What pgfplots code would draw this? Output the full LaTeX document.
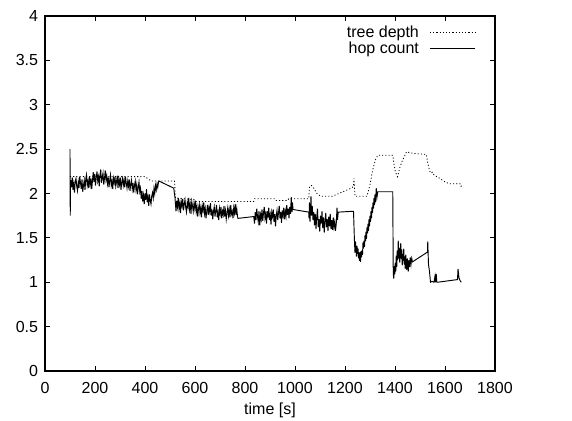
\documentclass[border=0pt]{standalone}
\usepackage{fontspec}
\setmainfont{Liberation Sans}
\usepackage{pgfplots}
\pgfplotsset{compat=1.18}
\begin{document}
\fontsize{12pt}{14pt}\selectfont
\begin{tikzpicture}
\path[use as bounding box] (-33.75pt,-37.5pt) rectangle (395.25pt,278.25pt);
\begin{axis}[
  at={(0pt,0pt)}, anchor=south west,
  scale only axis, width=337.5pt, height=266.25pt,
  xmin=0, xmax=1800, ymin=0, ymax=4,
  xtick={0,200,...,1800}, ytick={0,0.5,...,4},
  tick pos=both, tick align=inside,
  major tick length=4pt,
  scaled x ticks=false, scaled y ticks=false,
  /pgf/number format/assume math mode=true,
  /pgf/number format/1000 sep={},
  xticklabel style={yshift=-4.5pt},
  yticklabel style={xshift=-1pt},
  tick label style={font=\fontsize{12pt}{14pt}\selectfont},
  label style={font=\fontsize{12pt}{14pt}\selectfont},
  xlabel={time [s]},
  xlabel style={yshift=1.5pt},
  axis line style={line width=0.8pt},
  every tick/.style={line width=0.6pt, black},
  legend plot pos=right,
  legend cell align=right,
  legend style={at={(0.961,0.985)}, anchor=north east, draw=none, fill=none,
    font=\fontsize{12pt}{14pt}\selectfont, row sep=-2.5pt, column sep=6pt, inner sep=1pt},
  legend image code/.code={\draw[#1] (0pt,0pt) -- (34pt,0pt);},
]
\addplot[black, line width=0.6pt, dash pattern=on 0.8pt off 1.6pt] coordinates {
(100,2.19) (400,2.19) (425,2.14) (518,2.14) (522,1.95) (560,1.94) (600,1.93) (604,1.91)
(835,1.91) (838,1.94) (920,1.94) (925,1.92) (970,1.92) (975,1.94) (1055,1.94)
(1058,2.08) (1066,2.09) (1075,2.06) (1090,1.99) (1105,1.97) (1150,1.97)
(1175,2.00) (1200,2.03) (1225,2.06) (1234,2.08) (1236,2.17) (1240,1.97) (1288,1.97)
(1300,2.10) (1312,2.28) (1322,2.38) (1331,2.43) (1391,2.43) (1396,2.33) (1402,2.24)
(1410,2.19) (1418,2.28) (1428,2.36) (1438,2.42) (1446,2.47) (1460,2.46) (1480,2.45)
(1525,2.44) (1532,2.33) (1538,2.26) (1543,2.23) (1550,2.24) (1556,2.21) (1567,2.19)
(1580,2.17) (1595,2.14) (1616,2.11) (1660,2.11) (1664,2.08) (1668,2.10)
};
\addlegendentry{tree depth}
\addplot[black, line width=0.7pt] coordinates {
(100,2.50) (101,1.75) (102,2.12)
(103,2.15) (106,2.07) (109,2.18) (112,2.04) (115,2.11) (118,2.01) (121,2.14) (124,2.17)
(127,2.08) (130,2.03) (133,2.13) (136,2.06) (139,2.19) (142,2.12) (145,2.05) (148,2.16)
(151,2.02) (154,2.09) (157,2.15) (160,2.04)
(163,2.16) (166,2.21) (169,2.09) (172,2.14) (175,2.06) (178,2.19) (181,2.10) (184,2.17)
(187,2.05) (190,2.15)
(193,2.24) (196,2.13) (199,2.22) (202,2.09) (205,2.18) (208,2.25) (211,2.14) (214,2.19)
(217,2.08) (220,2.21) (223,2.27) (226,2.12) (229,2.18) (232,2.23) (235,2.10) (238,2.17)
(241,2.26) (244,2.15) (247,2.20) (250,2.11)
(253,2.18) (256,2.07) (259,2.15) (262,2.21) (265,2.09) (268,2.14) (271,2.05) (274,2.17)
(277,2.12) (280,2.19) (283,2.08) (286,2.13) (289,2.20) (292,2.06) (295,2.16) (298,2.10)
(301,2.18) (304,2.04) (307,2.13) (310,2.17) (313,2.09) (316,2.15) (319,2.07) (322,2.19)
(325,2.12) (328,2.06)
(331,2.14) (334,2.08) (337,2.16) (340,2.03) (343,2.11) (346,2.15) (349,2.05) (352,2.12)
(355,2.01) (358,2.09) (361,2.14) (364,2.04) (367,2.10) (370,1.99) (373,2.07) (376,2.13)
(379,2.02) (382,2.06)
(385,1.94) (388,2.03) (391,1.91) (394,1.98) (397,1.88) (400,2.00) (403,1.93) (406,2.05)
(409,1.90) (412,1.96) (415,1.86) (418,1.99) (421,1.92) (424,1.88) (427,1.97)
(430,2.01) (433,1.95) (436,2.06) (439,2.00) (442,2.09) (445,2.04) (448,2.11) (451,2.07)
(454,2.13) (456,2.14)
(515,2.06) (520,1.95)
(524,1.80) (527,1.92) (530,1.85) (533,1.95) (536,1.83) (539,1.89) (542,1.78) (545,1.91)
(548,1.86) (551,1.94) (554,1.81) (557,1.88) (560,1.93) (563,1.84) (566,1.79) (569,1.90)
(572,1.85) (575,1.95) (578,1.82) (581,1.88) (584,1.77) (587,1.91) (590,1.86) (593,1.80)
(596,1.89) (599,1.83)
(602,1.92) (605,1.79) (608,1.85) (611,1.74) (614,1.83) (617,1.88) (620,1.78) (623,1.84)
(626,1.73) (629,1.86) (632,1.81) (635,1.90) (638,1.77) (641,1.83) (644,1.72) (647,1.80)
(650,1.87) (653,1.76) (656,1.84) (659,1.79) (662,1.89) (665,1.75) (668,1.82) (671,1.71)
(674,1.80) (677,1.85) (680,1.74)
(683,1.81) (686,1.87) (689,1.73) (692,1.79) (695,1.70) (698,1.83) (701,1.77) (704,1.85)
(707,1.72) (710,1.80) (713,1.76) (716,1.86) (719,1.74) (722,1.81) (725,1.71) (728,1.78)
(731,1.84) (734,1.75) (737,1.82) (740,1.73) (743,1.87) (746,1.77) (749,1.80) (752,1.72)
(755,1.84) (758,1.78) (761,1.88) (764,1.76) (767,1.83) (770,1.74) (772,1.72)
(835,1.74)
(838,1.66) (841,1.79) (844,1.70) (847,1.83) (850,1.74) (853,1.68) (856,1.80) (859,1.64)
(862,1.76) (865,1.71) (868,1.82) (871,1.69) (874,1.78) (877,1.85) (880,1.72) (883,1.77)
(886,1.66) (889,1.80) (892,1.73) (895,1.84) (898,1.70) (901,1.76) (904,1.65) (907,1.79)
(910,1.74) (913,1.82) (916,1.68) (919,1.77) (922,1.63) (925,1.75) (928,1.81) (931,1.70)
(934,1.78) (937,1.86) (940,1.72) (943,1.79) (946,1.67) (949,1.81) (952,1.75) (955,1.84)
(958,1.71) (961,1.80) (964,1.74) (967,1.87) (970,1.76) (973,1.83) (976,1.72) (979,1.85)
(982,1.77) (985,1.96) (988,1.79) (990,1.90) (992,1.82)
(1055,1.79)
(1056,1.72) (1058,1.90) (1060,1.68) (1062,1.81) (1064,1.97) (1066,1.75) (1069,1.86)
(1072,1.70) (1075,1.79) (1078,1.64) (1081,1.77) (1084,1.60) (1087,1.74) (1090,1.83)
(1093,1.62) (1096,1.71) (1099,1.57) (1102,1.75) (1105,1.66) (1108,1.80) (1111,1.61)
(1114,1.73) (1117,1.56) (1120,1.69) (1123,1.78) (1126,1.62) (1129,1.71) (1132,1.58)
(1135,1.74) (1138,1.63) (1141,1.77) (1144,1.60) (1147,1.70) (1150,1.59) (1153,1.73)
(1156,1.62) (1159,1.68) (1162,1.58) (1165,1.66) (1168,1.84) (1170,1.70) (1173,1.79)
(1234,1.80)
(1238,1.45) (1240,1.33) (1242,1.46) (1244,1.38) (1246,1.29) (1248,1.41) (1250,1.32)
(1252,1.38) (1254,1.27) (1256,1.34) (1258,1.24) (1260,1.29) (1262,1.23) (1264,1.35)
(1266,1.28) (1268,1.36) (1270,1.31) (1272,1.45) (1274,1.38) (1276,1.47) (1278,1.40)
(1280,1.53) (1282,1.46) (1284,1.57) (1286,1.49) (1288,1.62) (1290,1.55) (1292,1.66)
(1294,1.58) (1296,1.71) (1298,1.63) (1300,1.75) (1302,1.68) (1304,1.80) (1306,1.72)
(1308,1.85) (1310,1.78) (1312,1.90) (1314,1.83) (1316,1.95) (1318,1.87) (1320,1.99)
(1322,1.90) (1325,2.06) (1328,1.96) (1331,2.02)
(1391,2.02) (1393,1.10)
(1395,1.04) (1397,1.18) (1399,1.09) (1401,1.22) (1403,1.12) (1405,1.30) (1407,1.17)
(1409,1.36) (1411,1.25) (1413,1.47) (1415,1.27) (1417,1.39) (1419,1.22) (1421,1.34)
(1423,1.44) (1425,1.26) (1427,1.37) (1429,1.19) (1431,1.32) (1433,1.24) (1435,1.38)
(1437,1.20) (1439,1.29) (1441,1.15) (1443,1.31) (1445,1.22) (1447,1.14) (1449,1.27)
(1451,1.19) (1453,1.12) (1455,1.25) (1458,1.17) (1461,1.28) (1464,1.20) (1467,1.27)
(1470,1.23)
(1530,1.34) (1531,1.46) (1534,1.20) (1538,1.12) (1542,1.00) (1548,1.01) (1556,1.00)
(1560,1.07) (1562,1.00) (1565,1.09) (1567,1.00) (1570,1.00)
(1650,1.03) (1652,1.15) (1656,1.05) (1660,1.02) (1665,1.00)
};
\addlegendentry{hop count}
\end{axis}
\end{tikzpicture}
\end{document}
